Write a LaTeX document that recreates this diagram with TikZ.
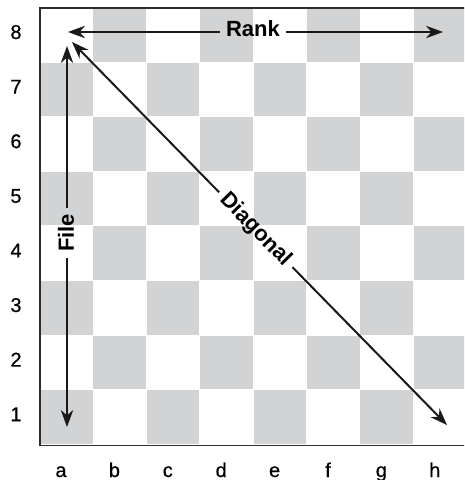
\documentclass[tikz,border=0pt]{standalone}
\usepackage{fontspec}
\setmainfont{Liberation Sans}
\newfontfamily\mediumfont{Liberation Sans}[FakeBold=0.5]
\usetikzlibrary{arrows.meta,calc}
\definecolor{squaregray}{RGB}{209,211,212}
\definecolor{boardline}{RGB}{45,45,45}
\tikzset{
  linearrow/.style={-{Stealth[length=8.5pt,width=6.2pt]}, line width=1pt, black!90},
  darksquare/.style={fill=squaregray, draw=none},
  boardedge/.style={draw=boardline, line width=0.7pt},
  coordlabel/.style={font=\mediumfont\fontsize{10}{12}\selectfont, inner sep=0pt, anchor=base},
  linelabel/.style={font=\fontsize{11}{13}\selectfont\bfseries, inner sep=2.8pt}
}
\begin{document}
\begin{tikzpicture}[x=0.5pt, y=-0.5pt]
  \useasboundingbox (0,0) rectangle (464,480);
  \clip (0,0) rectangle (464,480);
  % board squares
  \foreach \i in {0,...,7}
    \foreach \j in {0,...,7}{
      \pgfmathtruncatemacro{\odd}{mod(\i+\j,2)}
      \ifnum\odd=1
        \fill[darksquare] (40+53.4*\i, 8+54.6*\j) rectangle ++(52.5,53.6);
      \fi
    }
  \draw[boardedge] (470,8) -- (40,8) -- (40,445.5) -- (470,445.5);
  % coordinates
  \foreach \r [count=\k from 0] in {8,7,...,1}
    \node[coordlabel] (rowlbl\r) at (16, 39+54.6*\k) {\r};
  \foreach \f [count=\k from 0] in {a,b,c,d,e,f,g,h}
    \node[coordlabel] (collbl\f) at (61+53.4*\k, 477) {\f};
  % rank
  \coordinate (rankW) at (68,32);
  \coordinate (rankE) at (443,32);
  \node[linelabel] (ranktext) at (253,29) {Rank};
  \draw[linearrow] (ranktext.west |- rankW) -- (rankW);
  \draw[linearrow] (ranktext.east |- rankE) -- (rankE);
  % file
  \coordinate (fileN) at (67,46);
  \coordinate (fileS) at (67,427);
  \node[linelabel, rotate=90] (filetext) at (66,233) {File};
  \draw[linearrow] (filetext.east -| fileN) -- (fileN);
  \draw[linearrow] (filetext.west -| fileS) -- (fileS);
  % diagonal
  \coordinate (diagNW) at (72,42);
  \coordinate (diagSE) at (447,425);
  \node[linelabel, rotate=-45.6] (diagtext) at ($(diagNW)!0.49!(diagSE)$) {Diagonal};
  \draw[linearrow] (diagtext.west) -- (diagNW);
  \draw[linearrow] (diagtext.east) -- (diagSE);
\end{tikzpicture}
\end{document}
